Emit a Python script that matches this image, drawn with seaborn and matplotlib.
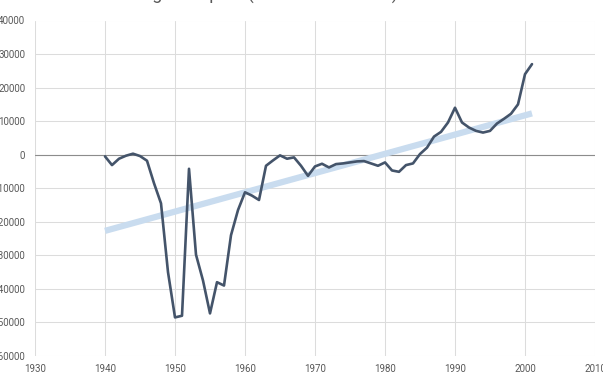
import matplotlib
matplotlib.use("Agg")
import matplotlib.pyplot as plt
import numpy as np
import pandas as pd
import seaborn as sns

YEARS = list(range(1940, 2002))
SURPLUS = [
    -500, -3100, -1200, -300, 300, -400, -1800, -8500, -14500, -35000,
    -48500, -48000, -4200, -29800, -37500, -47300, -38000, -39000, -24000, -16500,
    -11200, -12200, -13500, -3300, -1700, -200, -1200, -800, -3300, -6300,
    -3500, -2700, -3800, -2800, -2600, -2300, -2000, -1900, -2600, -3300,
    -2300, -4700, -5100, -3100, -2600, 200, 2100, 5400, 6800, 9600,
    14000, 9600, 8100, 7100, 6600, 7100, 9300, 10700, 12200, 15000,
    24000, 27000,
]
X_TICKS = list(range(1930, 2011, 10))
Y_TICKS = list(range(-60000, 40001, 10000))
TITLE = "Budget Surplus (Deficit in Millions)"


def main():
    df = pd.DataFrame({"year": YEARS, "surplus": SURPLUS})

    sns.set_theme(style="white")
    plt.rcParams["font.family"] = ["Roboto", "DejaVu Sans"]
    plt.rcParams["axes.unicode_minus"] = False

    fig = plt.figure(figsize=(6.03, 3.82), dpi=100)
    ax = fig.add_axes([35 / 603, 1 - 356 / 382, 560 / 603, 335.5 / 382])

    grid_c = "#dcdcdc"
    for v in X_TICKS:
        ax.axvline(v, color=grid_c, lw=0.75, zorder=0)
    for v in Y_TICKS:
        ax.axhline(v, color=grid_c, lw=0.75, zorder=0)
    ax.axhline(0, color="#8c8c8c", lw=0.8, zorder=1)

    # linear trendline
    sns.regplot(data=df, x="year", y="surplus", scatter=False, ci=None, ax=ax,
                line_kws={"color": "#c9dcef", "lw": 4.5, "solid_capstyle": "butt", "zorder": 2})
    sns.lineplot(data=df, x="year", y="surplus", ax=ax, color="#44546a", lw=1.9, zorder=3)

    ax.set_xlim(1930, 2010)
    ax.set_ylim(-60000, 40000)
    ax.set_xticks(X_TICKS)
    ax.set_yticks(Y_TICKS)
    ax.set_xlabel("")
    ax.set_ylabel("")
    for s in ax.spines.values():
        s.set_visible(False)
    ax.tick_params(axis="both", length=0, labelsize=7, labelcolor="#595959")
    ax.tick_params(axis="y", pad=7)
    ax.tick_params(axis="x", pad=6)

    # title sits mostly above the visible area, only descenders show
    fig.text(0.43, 1.0, TITLE, ha="center", va="baseline",
             fontsize=13, color="#595959")

    fig.savefig("out.png", dpi=100)
    plt.close(fig)


if __name__ == "__main__":
    main()
